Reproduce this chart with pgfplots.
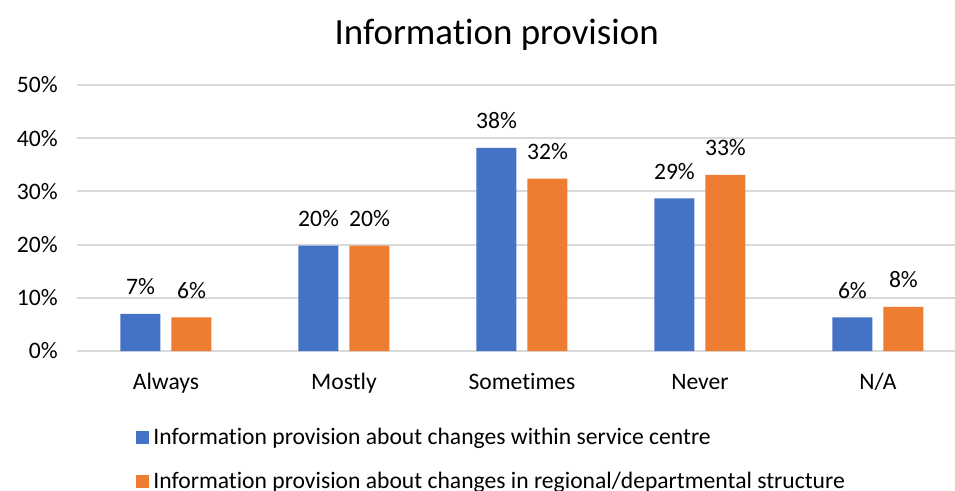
\documentclass[border=0pt]{standalone}
\usepackage{fontspec}
\setmainfont{Carlito}[Ligatures={NoCommon}]
\usepackage{pgfplots}
\pgfplotsset{compat=1.18}
\definecolor{cblue}{HTML}{4472C4}
\definecolor{corange}{HTML}{ED7D31}
\definecolor{cgrid}{HTML}{D9D9D9}
\newcommand{\tfont}{\fontsize{17.7}{21}\selectfont}
\begin{document}
\begin{tikzpicture}
\path[use as bounding box] (-57.75pt,-104.25pt) rectangle (658.5pt,263.25pt);
\begin{axis}[
  at={(0,0)}, anchor=south west,
  scale only axis,
  width=658.5pt, height=199.5pt,
  xmin=-0.5, xmax=4.433,
  ymin=0, ymax=50,
  ytick={0,10,20,30,40,50},
  yticklabel={\pgfmathprintnumber{\tick}\%},
  /pgf/number format/assume math mode=true,
  xtick={0,1,2,3,4},
  xticklabels={Always,Mostly,Sometimes,Never,N/A},
  axis line style={draw=none},
  major tick length=0pt,
  ymajorgrids,
  grid style={cgrid, line width=1.5pt},
  ybar=8.25pt,
  bar width=30pt,
  ticklabel style={font=\tfont},
  yticklabel style={anchor=east, xshift=-11pt},
  xticklabel style={anchor=base, yshift=-28.5pt},
  nodes near coords={\pgfmathprintnumber[fixed,precision=0]{\pgfplotspointmeta}\%},
  nodes near coords style={font=\tfont, anchor=south, yshift=10.75pt},
  title={Information provision},
  title style={font=\fontsize{27.7}{32}\selectfont, at={(0.478,1)}, anchor=base, yshift=24.75pt},
  legend style={draw=none, fill=none, at={(0.0666,-0.28)}, anchor=north west, font=\tfont, row sep=15pt, inner sep=0pt},
  legend cell align=left,
  legend image code/.code={\fill[#1,draw=none] (0pt,-4.9pt) rectangle (9.75pt,4.9pt); \path (11.25pt,0pt);},
]
\addplot[fill=cblue, draw=none] coordinates {(0,7.0) (1,19.8) (2,38.2) (3,28.7) (4,6.3)};
\addplot[fill=corange, draw=none] coordinates {(0,6.3) (1,19.8) (2,32.4) (3,33.1) (4,8.3)};
\legend{Information provision about changes within service centre, Information provision about changes in regional/departmental structure}
\end{axis}
\end{tikzpicture}
\end{document}
